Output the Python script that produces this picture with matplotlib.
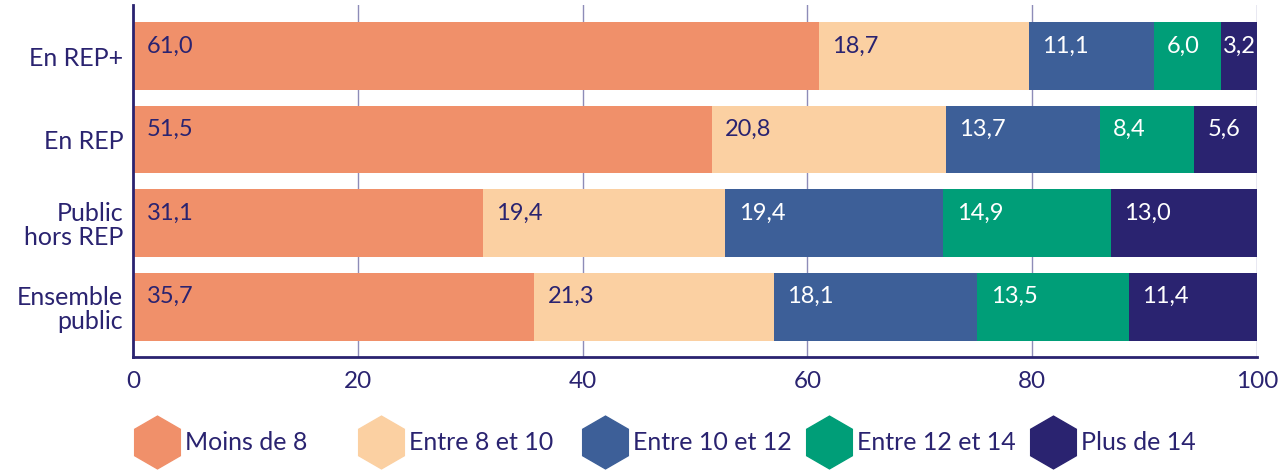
import matplotlib
matplotlib.use("Agg")
import matplotlib.pyplot as plt
from matplotlib.lines import Line2D
import numpy as np

plt.rcParams['font.family'] = ['Lato', 'DejaVu Sans']

categories = ["En REP+", "En REP", "Public\nhors REP", "Ensemble\npublic"]
series_names = ["Moins de 8", "Entre 8 et 10", "Entre 10 et 12", "Entre 12 et 14", "Plus de 14"]
# bar lengths as drawn in the reference
moins_8 = [61.0, 51.5, 31.1, 35.7]
entre_8_10 = [18.7, 20.8, 21.6, 21.3]
entre_10_12 = [11.1, 13.7, 19.4, 18.1]
entre_12_14 = [6.0, 8.4, 14.9, 13.5]
plus_14 = [3.2, 5.6, 13.0, 11.4]
# labels as printed in the reference
moins_8_labels = ["61,0", "51,5", "31,1", "35,7"]
entre_8_10_labels = ["18,7", "20,8", "19,4", "21,3"]
entre_10_12_labels = ["11,1", "13,7", "19,4", "18,1"]
entre_12_14_labels = ["6,0", "8,4", "14,9", "13,5"]
plus_14_labels = ["3,2", "5,6", "13,0", "11,4"]
x_ticks = [0, 20, 40, 60, 80, 100]

series = [moins_8, entre_8_10, entre_10_12, entre_12_14, plus_14]
labels = [moins_8_labels, entre_8_10_labels, entre_10_12_labels,
          entre_12_14_labels, plus_14_labels]
colors = ["#F0906A", "#FBD0A2", "#3D5F98", "#009E78", "#2A2370"]
text_colors = ["#2A2370", "#2A2370", "white", "white", "white"]
navy = "#2A2370"

W, H = 1287, 472
fig = plt.figure(figsize=(W/100, H/100), dpi=100)
ax = fig.add_axes([133/W, 1-357/H, 1124/W, 352/H])

y = np.arange(len(categories))
left = np.zeros(len(categories))
for vals, labs, col, tcol in zip(series, labels, colors, text_colors):
    vals = np.array(vals)
    ax.barh(y, vals, left=left, height=0.81, color=col, zorder=3)
    for yi, l, v, lab in zip(y, left, vals, labs):
        if v < 4:
            ax.text(l + v/2, yi - 0.12, lab, ha="center", va="center",
                    color=tcol, fontsize=17, zorder=4)
        else:
            ax.text(l + 1.2, yi - 0.12, lab, ha="left", va="center",
                    color=tcol, fontsize=17, zorder=4)
    left = left + vals

ax.set_xlim(0, 100)
ax.set_ylim(3.6, -0.61)
ax.set_yticks(y)
ax.set_yticklabels(categories, fontsize=18, color=navy, linespacing=1.05)
ax.set_xticks(x_ticks)
ax.set_xticklabels([str(t) for t in x_ticks], fontsize=17.5, color=navy)
ax.tick_params(axis="x", length=0, pad=10)
ax.tick_params(axis="y", length=0, pad=7)
for t in ax.get_yticklabels():
    t.set_multialignment("right")

ax.grid(axis="x", color="#8E8CB8", linewidth=1.0, zorder=0)
for s in ["top", "right"]:
    ax.spines[s].set_visible(False)
ax.spines["left"].set_color(navy)
ax.spines["left"].set_linewidth(2)
ax.spines["left"].set_zorder(5)
ax.spines["bottom"].set_color(navy)
ax.spines["bottom"].set_linewidth(2)

# legend: evenly spaced entries
leg_y = 1 - 442/H
for i, (name, c) in enumerate(zip(series_names, colors)):
    mx = (157 + i*224) / W
    fig.add_artist(Line2D([mx], [leg_y], marker="h", linestyle="none",
                          markersize=38, markerfacecolor=c, markeredgecolor=c,
                          transform=fig.transFigure))
    fig.text(mx + 28/W, leg_y, name, ha="left", va="center",
             fontsize=18, color=navy)

fig.savefig("out.png", dpi=100)
